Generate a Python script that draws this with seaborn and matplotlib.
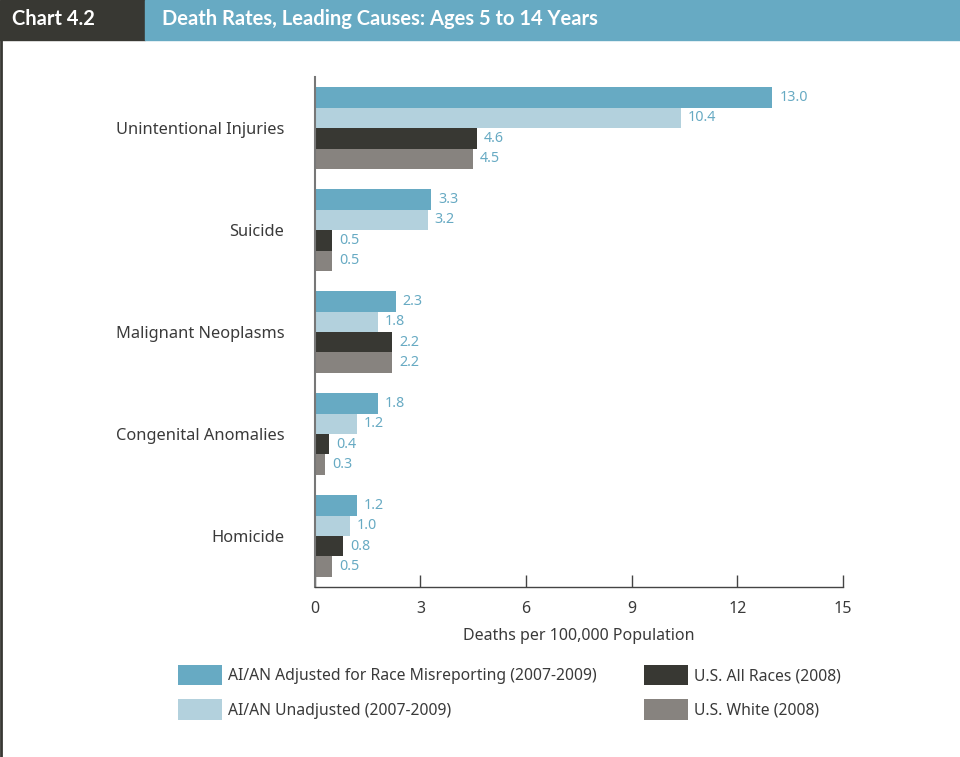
import numpy as np
import pandas as pd
import matplotlib
matplotlib.use("Agg")
import matplotlib.pyplot as plt
import seaborn as sns
from matplotlib.patches import Rectangle, Patch
from matplotlib.lines import Line2D


# DATA

causes = [
    "Unintentional Injuries",
    "Suicide",
    "Malignant Neoplasms",
    "Congenital Anomalies",
    "Homicide",
]
series = [
    "AI/AN Adjusted for Race Misreporting (2007-2009)",
    "AI/AN Unadjusted (2007-2009)",
    "U.S. All Races (2008)",
    "U.S. White (2008)",
]
aian_adjusted = [13.0, 3.3, 2.3, 1.8, 1.2]
aian_unadjusted = [10.4, 3.2, 1.8, 1.2, 1.0]
us_all_races = [4.6, 0.5, 2.2, 0.4, 0.8]
us_white = [4.5, 0.5, 2.2, 0.3, 0.5]
x_ticks = [0, 3, 6, 9, 12, 15]

colors = ["#67aac3", "#b3d1dd", "#383833", "#87837f"]
label_color = "#67aac3"
text_color = "#3a3a3a"

df = pd.DataFrame({
    "cause": causes * 4,
    "series": np.repeat(series, len(causes)),
    "value": aian_adjusted + aian_unadjusted + us_all_races + us_white,
})


# PLOT

sns.set_theme(style="white")
plt.rcParams["font.family"] = ["Noto Sans", "DejaVu Sans"]

fig = plt.figure(figsize=(9.6, 7.57), dpi=100)
ax = fig.add_axes([0.328, 0.2246, 0.55, 0.6734])

sns.barplot(
    data=df,
    y="cause",
    x="value",
    hue="series",
    order=causes,
    hue_order=series,
    palette=colors,
    orient="h",
    width=0.8,
    saturation=1,
    linewidth=0,
    legend=False,
    ax=ax,
)

for container in ax.containers:
    ax.bar_label(container, fmt="%.1f", padding=5, color=label_color, fontsize=10.3)

ax.set_xlim(0, 15)
ax.set_ylim(4.5, -0.5)
ax.set_xticks(x_ticks)
ax.set_xlabel("Deaths per 100,000 Population", fontsize=11.5, color=text_color, labelpad=8)
ax.set_ylabel("")

ax.tick_params(axis="x", bottom=True, direction="in", length=9, width=1, color="#444444",
               labelsize=11.5, labelcolor=text_color, pad=10)
ax.tick_params(axis="y", left=False, length=0, labelsize=11.8, labelcolor=text_color, pad=22)

for side in ["top", "right"]:
    ax.spines[side].set_visible(False)
ax.spines["left"].set_color("#777777")
ax.spines["left"].set_linewidth(1.5)
ax.spines["bottom"].set_color("#444444")
ax.spines["bottom"].set_linewidth(1)


# HEADER

head_h = 40 / 757
fig.patches.append(Rectangle((0, 1 - head_h), 145 / 960, head_h,
                             transform=fig.transFigure, color="#383833", zorder=0))
fig.patches.append(Rectangle((145 / 960, 1 - head_h), 1 - 145 / 960, head_h,
                             transform=fig.transFigure, color="#67aac3", zorder=0))
fig.add_artist(Line2D([1 / 960, 1 / 960], [0, 1 - head_h], transform=fig.transFigure,
                      color="#383833", linewidth=2))

fig.text(12 / 960, 1 - 19 / 757, "Chart 4.2", color="white", fontsize=14.5,
         fontweight="bold", family=["Lato", "DejaVu Sans"], va="center", ha="left")
fig.text(162 / 960, 1 - 19 / 757, "Death Rates, Leading Causes: Ages 5 to 14 Years",
         color="white", fontsize=14.5, fontweight="bold", family=["Lato", "DejaVu Sans"],
         va="center", ha="left")


# LEGEND

handles = [Patch(facecolor=c, edgecolor="none") for c in colors]
fig.legend(
    handles,
    series,
    loc="upper left",
    bbox_to_anchor=(164 / 960, 1 - 651 / 757),
    ncol=2,
    frameon=False,
    fontsize=11.3,
    labelcolor=text_color,
    handlelength=2.8,
    handleheight=1.6,
    handletextpad=0.4,
    columnspacing=3.0,
    labelspacing=0.9,
)

fig.savefig("out.png", dpi=100)
